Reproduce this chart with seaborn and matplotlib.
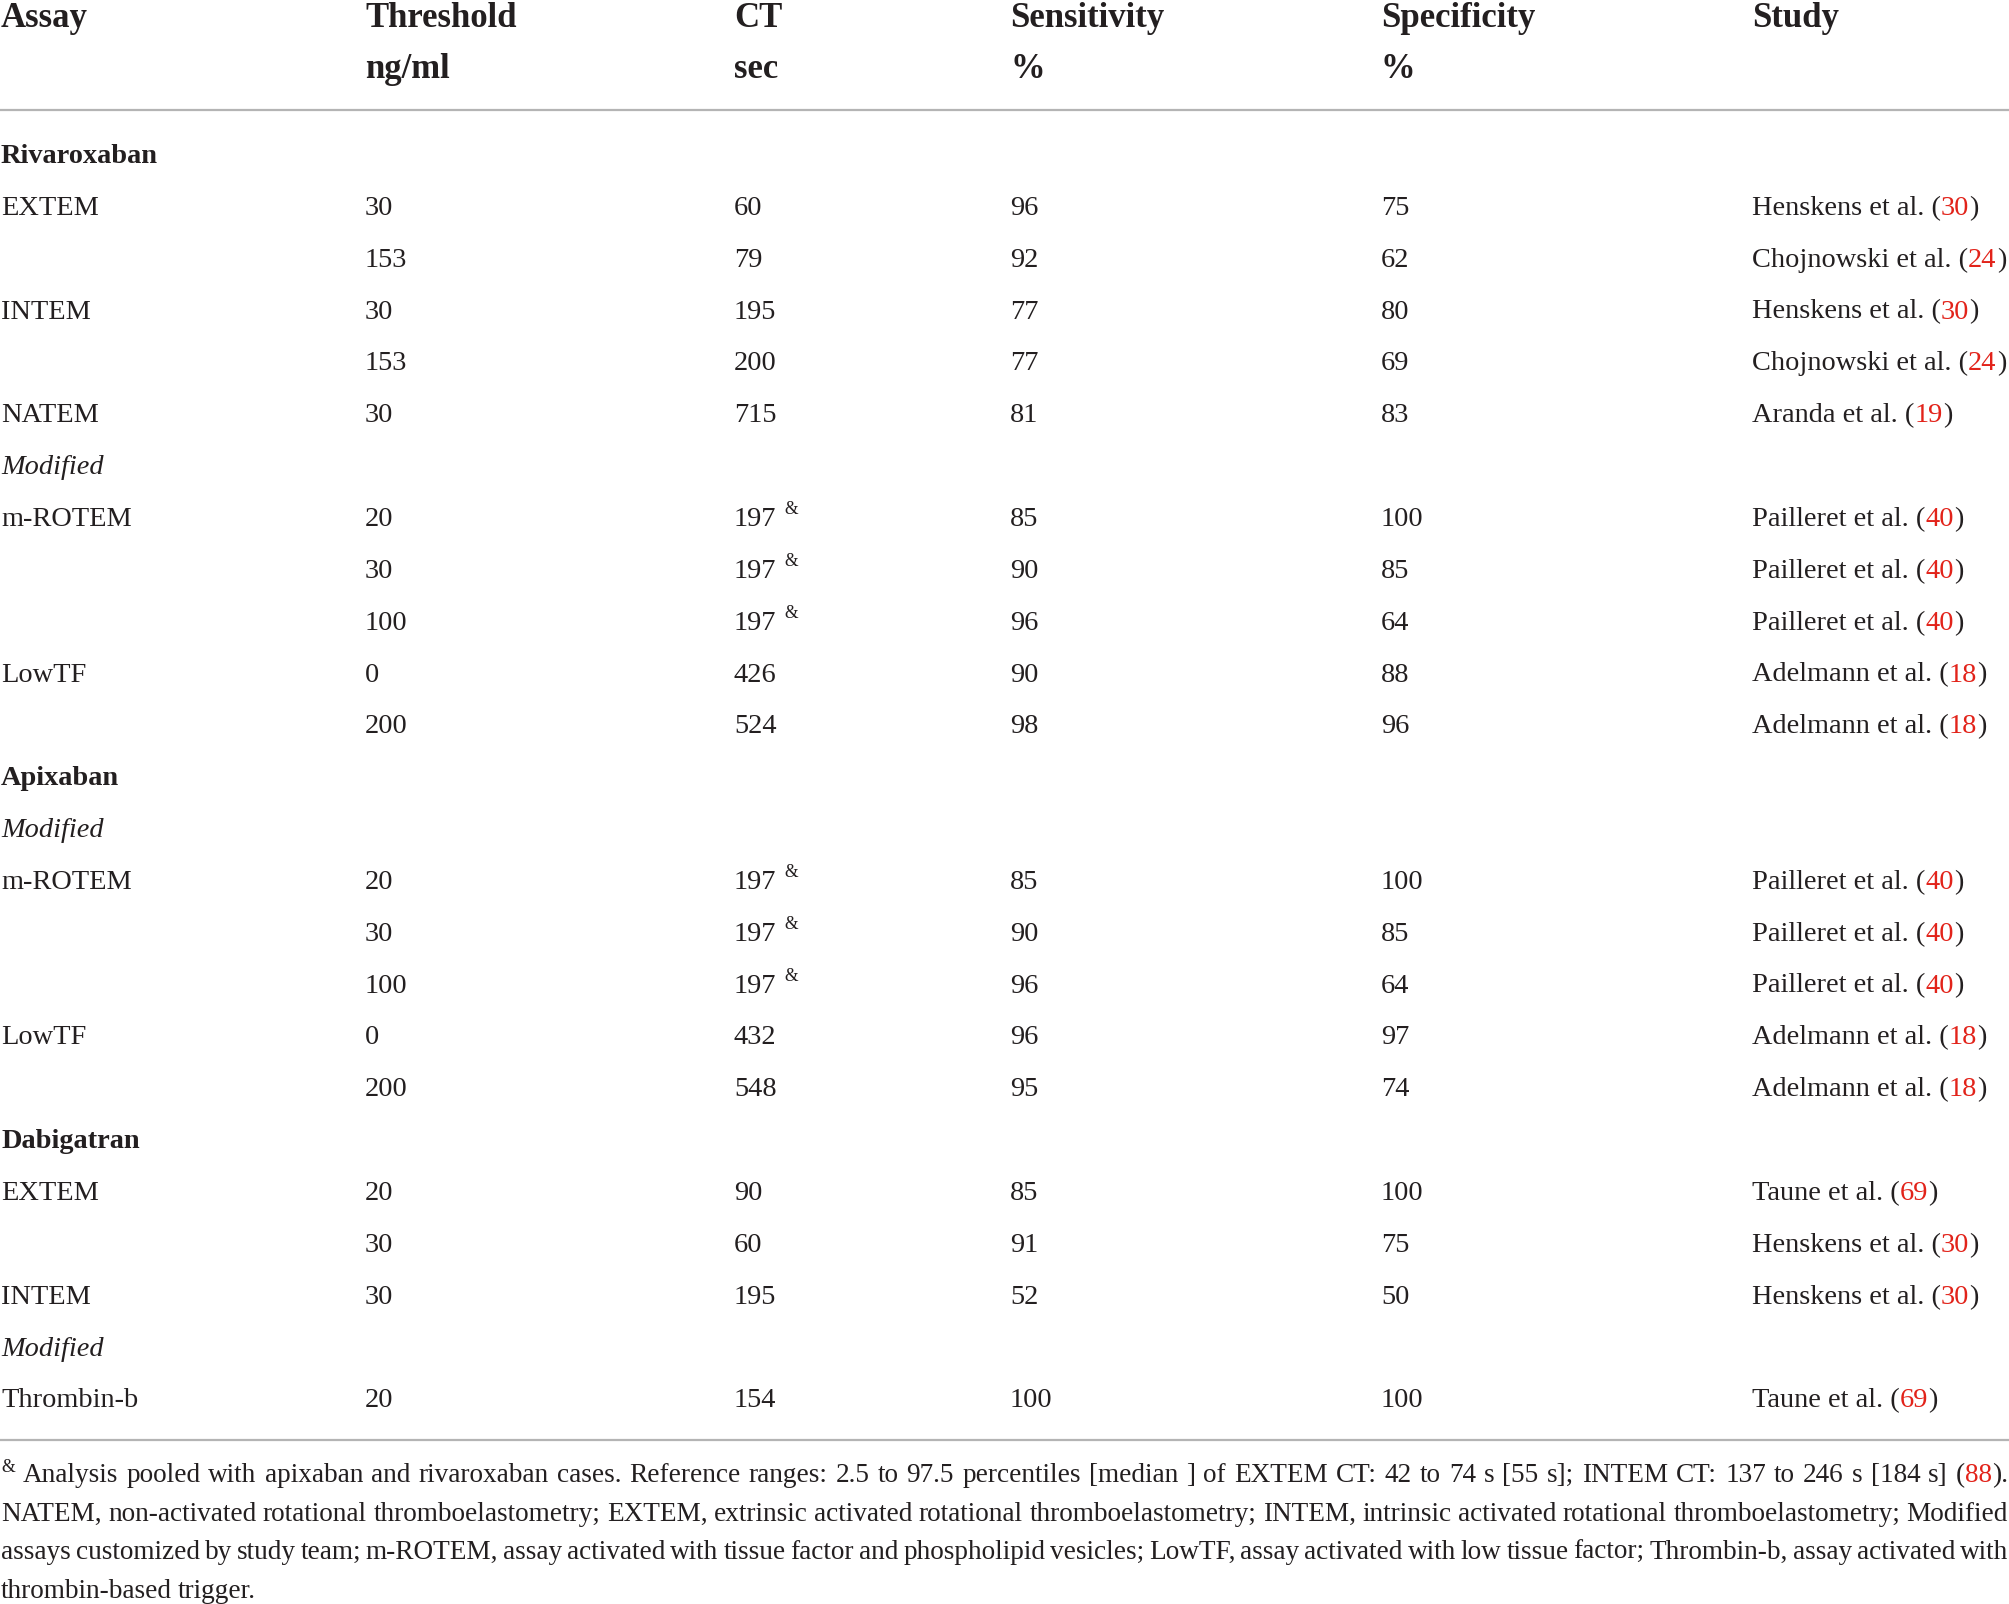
import re
import matplotlib
matplotlib.use("Agg")
import matplotlib.pyplot as plt
import seaborn as sns

sns.set_theme(style="white")
plt.rcParams["font.family"] = ["Liberation Serif", "DejaVu Serif"]

W, H = 2009, 1604

# ---- table content ----
header_names = ["Assay", "Threshold", "CT", "Sensitivity", "Specificity", "Study"]
header_units = ["", "ng/ml", "sec", "%", "%", ""]

assays = ["Rivaroxaban", "EXTEM", "", "INTEM", "", "NATEM", "Modified",
          "m-ROTEM", "", "", "LowTF", "",
          "Apixaban", "Modified", "m-ROTEM", "", "", "LowTF", "",
          "Dabigatran", "EXTEM", "", "INTEM", "Modified", "Thrombin-b"]
thresholds = ["", "30", "153", "30", "153", "30", "",
              "20", "30", "100", "0", "200",
              "", "", "20", "30", "100", "0", "200",
              "", "20", "30", "30", "", "20"]
ct_sec = ["", "60", "79", "195", "200", "715", "",
          "197&", "197&", "197&", "426", "524",
          "", "", "197&", "197&", "197&", "432", "548",
          "", "90", "60", "195", "", "154"]
sensitivity = ["", "96", "92", "77", "77", "81", "",
               "85", "90", "96", "90", "98",
               "", "", "85", "90", "96", "96", "95",
               "", "85", "91", "52", "", "100"]
specificity = ["", "75", "62", "80", "69", "83", "",
               "100", "85", "64", "88", "96",
               "", "", "100", "85", "64", "97", "74",
               "", "100", "75", "50", "", "100"]
studies = ["", "Henskens et al. (30)", "Chojnowski et al. (24)",
           "Henskens et al. (30)", "Chojnowski et al. (24)", "Aranda et al. (19)", "",
           "Pailleret et al. (40)", "Pailleret et al. (40)", "Pailleret et al. (40)",
           "Adelmann et al. (18)", "Adelmann et al. (18)",
           "", "",
           "Pailleret et al. (40)", "Pailleret et al. (40)", "Pailleret et al. (40)",
           "Adelmann et al. (18)", "Adelmann et al. (18)",
           "", "Taune et al. (69)", "Henskens et al. (30)", "Henskens et al. (30)",
           "", "Taune et al. (69)"]
drug_sections = ["Rivaroxaban", "Apixaban", "Dabigatran"]
subgroups = ["Modified"]

# footnote, {n} = red reference, ^& = superscript
footnote_lines = [
    "^& Analysis pooled with apixaban and rivaroxaban cases. Reference ranges: 2.5 to 97.5 percentiles [median ] of EXTEM CT: 42 to 74 s [55 s]; INTEM CT: 137 to 246 s [184 s] ({88}).",
    "NATEM, non-activated rotational thromboelastometry; EXTEM, extrinsic activated rotational thromboelastometry; INTEM, intrinsic activated rotational thromboelastometry; Modified",
    "assays customized by study team; m-ROTEM, assay activated with tissue factor and phospholipid vesicles; LowTF, assay activated with low tissue factor; Thrombin-b, assay activated with",
    "thrombin-based trigger.",
]

TXT = "#231f20"
RED = "#e2231a"
RULE = "#b4b4b4"
BODY = 20.4
HEAD = 25.0

col_x = [1, 365, 734, 1010, 1381, 1752]

fig = plt.figure(figsize=(W / 100, H / 100), dpi=100)
ax = fig.add_axes([0, 0, 1, 1])
ax.set_xlim(0, W)
ax.set_ylim(H, 0)
ax.axis("off")
fig.canvas.draw()
renderer = fig.canvas.get_renderer()


def width_of(t):
    return t.get_window_extent(renderer).width


def draw_runs(x, y, runs, size, weight="normal", style="normal"):
    # runs: (text, color, scale, rise); text None = horizontal gap of `scale` px
    for text, color, scale, rise in runs:
        if text is None:
            x += scale
            continue
        t = ax.text(x, y - rise, text, fontsize=size * scale, color=color,
                    weight=weight, style=style, va="baseline", ha="left")
        x += width_of(t)
    return x


def cell_runs(text):
    runs = []
    if text.endswith("&"):
        runs.append((text[:-1], TXT, 1.0, 0))
        runs.append((None, None, 8, 0))
        runs.append(("&", TXT, 0.62, 12))
        return runs
    pos = 0
    for m in re.finditer(r"\((\d+)\)", text):
        runs.append((text[pos:m.start()] + "(", TXT, 1.0, 0))
        runs.append((m.group(1), RED, 1.0, 0))
        runs.append((")", TXT, 1.0, 0))
        pos = m.end()
    if pos < len(text):
        runs.append((text[pos:], TXT, 1.0, 0))
    return runs


# header
for x, name, unit in zip(col_x, header_names, header_units):
    ax.text(x, 27, name, fontsize=HEAD, weight="bold", color=TXT, va="baseline")
    if unit:
        ax.text(x, 78, unit, fontsize=HEAD, weight="bold", color=TXT, va="baseline")

ax.axhline(110, color=RULE, lw=1.6)

# body rows
y0, dy = 163, 51.85
for i, assay in enumerate(assays):
    y = y0 + i * dy
    if assay in drug_sections:
        ax.text(col_x[0], y, assay, fontsize=BODY, weight="bold", color=TXT, va="baseline")
        continue
    if assay in subgroups:
        ax.text(col_x[0], y, assay, fontsize=BODY, style="italic", color=TXT, va="baseline")
        continue
    if assay:
        ax.text(col_x[0], y, assay, fontsize=BODY, color=TXT, va="baseline")
    for x, val in zip(col_x[1:], [thresholds[i], ct_sec[i], sensitivity[i],
                                  specificity[i], studies[i]]):
        if val:
            draw_runs(x, y, cell_runs(val), BODY)

ax.axhline(1440, color=RULE, lw=1.6)


# footnote, justified
def word_runs(word):
    if word.startswith("^"):
        return [(word[1:], TXT, 0.65, 10)]
    runs = []
    pos = 0
    for m in re.finditer(r"\{(\d+)\}", word):
        if m.start() > pos:
            runs.append((word[pos:m.start()], TXT, 1.0, 0))
        runs.append((m.group(1), RED, 1.0, 0))
        pos = m.end()
    if pos < len(word):
        runs.append((word[pos:], TXT, 1.0, 0))
    return runs


def measure_runs(runs, size):
    total = 0
    for text, color, scale, rise in runs:
        t = ax.text(0, 0, text, fontsize=size * scale)
        total += width_of(t)
        t.remove()
    return total


# pick the footnote size so the longest line fills the width with normal spacing
probe = 18.0
line2 = [word_runs(w) for w in footnote_lines[1].split(" ")]
natural = sum(measure_runs(r, probe) for r in line2) + (len(line2) - 1) * probe * 0.3
FOOT = probe * (W - 4) / natural

foot_y = [1482, 1521, 1559, 1598]
for li, line in enumerate(footnote_lines):
    words = line.split(" ")
    wruns = [word_runs(w) for w in words]
    widths = [measure_runs(r, FOOT) for r in wruns]
    if li < len(footnote_lines) - 1:
        gap = (W - 2 - sum(widths)) / (len(words) - 1)
    else:
        gap = FOOT * 0.3
    x = 1
    for r, w in zip(wruns, widths):
        draw_runs(x, foot_y[li], r, FOOT)
        x += w + gap

fig.savefig("out.png", dpi=100, facecolor="white")
